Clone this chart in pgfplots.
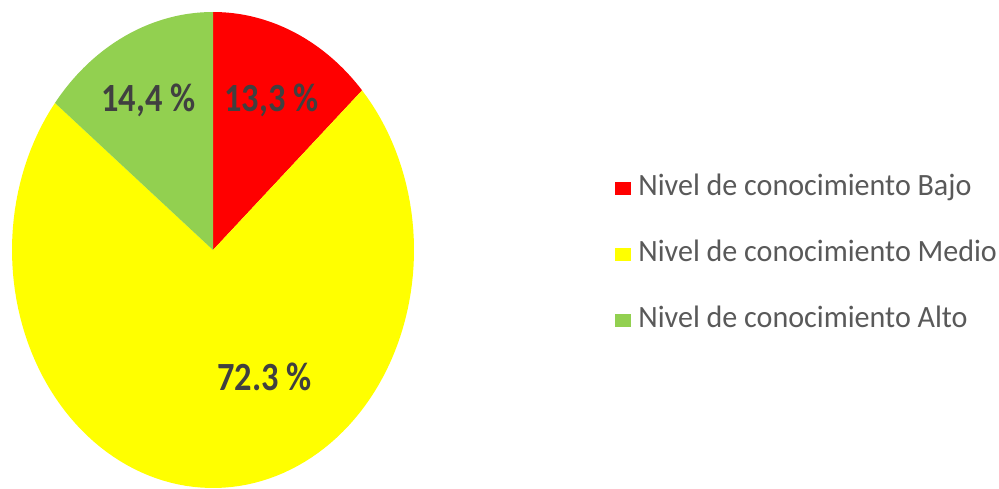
\documentclass[border=0pt]{standalone}
\usepackage{pgfplots}
\usepackage{pgfplotstable}
\pgfplotsset{compat=1.18}
\usepackage{fontspec}
\setmainfont{Carlito}
\newfontfamily\labfont{Carlito}[FakeStretch=0.86]
\newfontfamily\legfont{Carlito}[FakeStretch=0.97]
\definecolor{cBajo}{HTML}{FF0000}
\definecolor{cMedio}{HTML}{FFFF00}
\definecolor{cAlto}{HTML}{92D050}
\definecolor{labtxt}{HTML}{404040}
\definecolor{legtxt}{HTML}{595959}

\pgfplotstableread{
label value
Bajo 13.3
Medio 72.3
Alto 14.4
}\piedata

\pgfplotstablegetelem{0}{value}\of\piedata \let\vA\pgfplotsretval
\pgfplotstablegetelem{1}{value}\of\piedata \let\vB\pgfplotsretval
\pgfplotstablegetelem{2}{value}\of\piedata \let\vC\pgfplotsretval
\pgfmathsetmacro{\aZ}{90}
\pgfmathsetmacro{\aA}{\aZ-3.6*\vA}
\pgfmathsetmacro{\aB}{\aA-3.6*\vB}
\pgfmathsetmacro{\aC}{\aB-3.6*\vC}

\begin{document}
\begin{tikzpicture}
\begin{axis}[
  hide axis, x=0.5pt, y=0.5pt,
  xmin=0, xmax=999, ymin=0, ymax=488,
  clip=false, samples=120,
]
\path (axis cs:0,0) rectangle (axis cs:999,488);
% slices (center 213,238; radii 201 x 238)
\addplot[fill=cBajo, draw=none, domain=\aZ:\aA, variable=\t]
  ({213+201*cos(t)},{238+238*sin(t)}) -- (axis cs:213,238) -- cycle;
\addplot[fill=cMedio, draw=none, domain=\aA:\aB, variable=\t]
  ({213+201*cos(t)},{238+238*sin(t)}) -- (axis cs:213,238) -- cycle;
\addplot[fill=cAlto, draw=none, domain=\aB:\aC, variable=\t]
  ({213+201*cos(t)},{238+238*sin(t)}) -- (axis cs:213,238) -- cycle;
% data labels
\node[anchor=base, text=labtxt, font=\labfont\bfseries\fontsize{20}{24}\selectfont, inner sep=0pt] at (axis cs:271.5,376) {13,3 \%};
\node[anchor=base, text=labtxt, font=\labfont\bfseries\fontsize{20}{24}\selectfont, inner sep=0pt] at (axis cs:148.5,376) {14,4 \%};
\node[anchor=base, text=labtxt, font=\labfont\bfseries\fontsize{20}{24}\selectfont, inner sep=0pt] at (axis cs:264.5,98) {72.3 \%};
% legend
\fill[cBajo]  (axis cs:615,293) rectangle (axis cs:631,306);
\fill[cMedio] (axis cs:615,227) rectangle (axis cs:631,240);
\fill[cAlto]  (axis cs:615,161) rectangle (axis cs:631,174);
\node[anchor=base west, text=legtxt, font=\legfont\fontsize{15.5}{18}\selectfont, inner sep=0pt] at (axis cs:638,293) {Nivel de conocimiento Bajo};
\node[anchor=base west, text=legtxt, font=\legfont\fontsize{15.5}{18}\selectfont, inner sep=0pt] at (axis cs:638,227) {Nivel de conocimiento Medio};
\node[anchor=base west, text=legtxt, font=\legfont\fontsize{15.5}{18}\selectfont, inner sep=0pt] at (axis cs:638,161) {Nivel de conocimiento Alto};
\end{axis}
\end{tikzpicture}
\end{document}
